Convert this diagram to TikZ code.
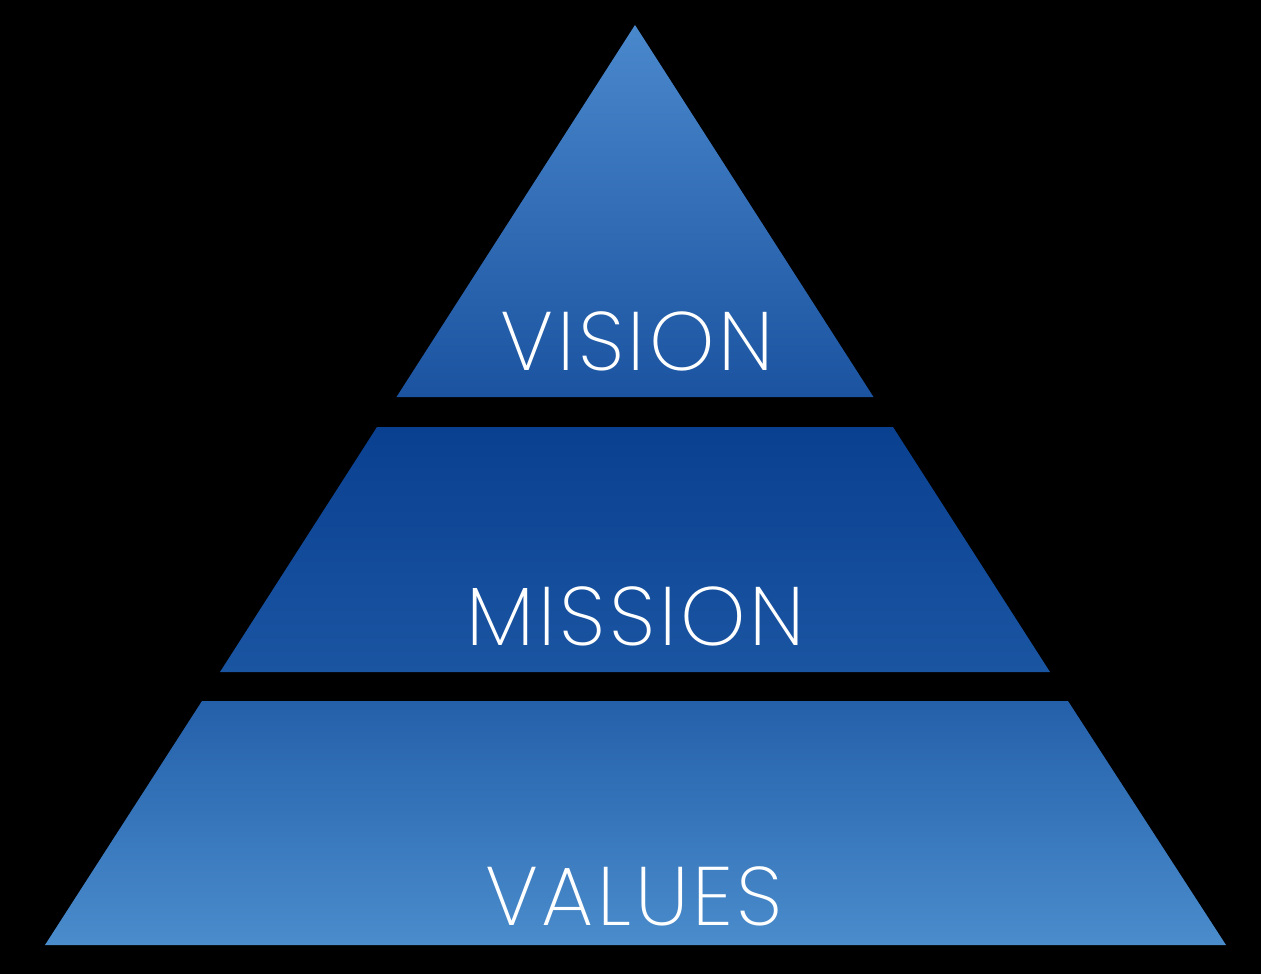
\documentclass[tikz,border=0pt]{standalone}
\usepackage{fontspec}
\IfFontExistsTF{Poppins ExtraLight}{\setmainfont{Poppins ExtraLight}[LetterSpace=4.5]}{%
  \IfFontExistsTF{Poppins Light}{\setmainfont{Poppins Light}[LetterSpace=4.5]}{%
    \IfFontExistsTF{Lato Light}{\setmainfont{Lato Light}}{\setmainfont{Lato}}}}

\definecolor{apexblue}{HTML}{4A88CC}
\definecolor{visionbase}{HTML}{1B53A0}
\definecolor{missiontop}{HTML}{0A4090}
\definecolor{missionbase}{HTML}{1A55A2}
\definecolor{valuestop}{HTML}{2460AA}
\definecolor{valuesbase}{HTML}{4A8CCC}

\tikzset{
  layer/.style={shading=axis, shading angle=0},
  lbl/.style={text=white, anchor=base, inner sep=0pt, font=\fontsize{83}{90}\selectfont}
}

\begin{document}
\begin{tikzpicture}[x=1pt, y=-1pt]
    \fill[black] (0,0) rectangle (1261,974);
    \useasboundingbox (0,0) rectangle (1261,974);

    % layers
    \fill[layer, top color=apexblue, bottom color=visionbase]
        (635,25) -- (873.5,397) -- (396.5,397) -- cycle;
    \fill[layer, top color=missiontop, bottom color=missionbase]
        (377,427) -- (893,427) -- (1050,672) -- (220,672) -- cycle;
    \fill[layer, top color=valuestop, bottom color=valuesbase]
        (202,701) -- (1068,701) -- (1226,945) -- (45,945) -- cycle;

    \node[lbl] (vision) at (637,370) {VISION};
    \node[lbl] (mission) at (636,645) {MISSION};
    \node[lbl] (values) at (634,925) {VALUES};
\end{tikzpicture}
\end{document}
